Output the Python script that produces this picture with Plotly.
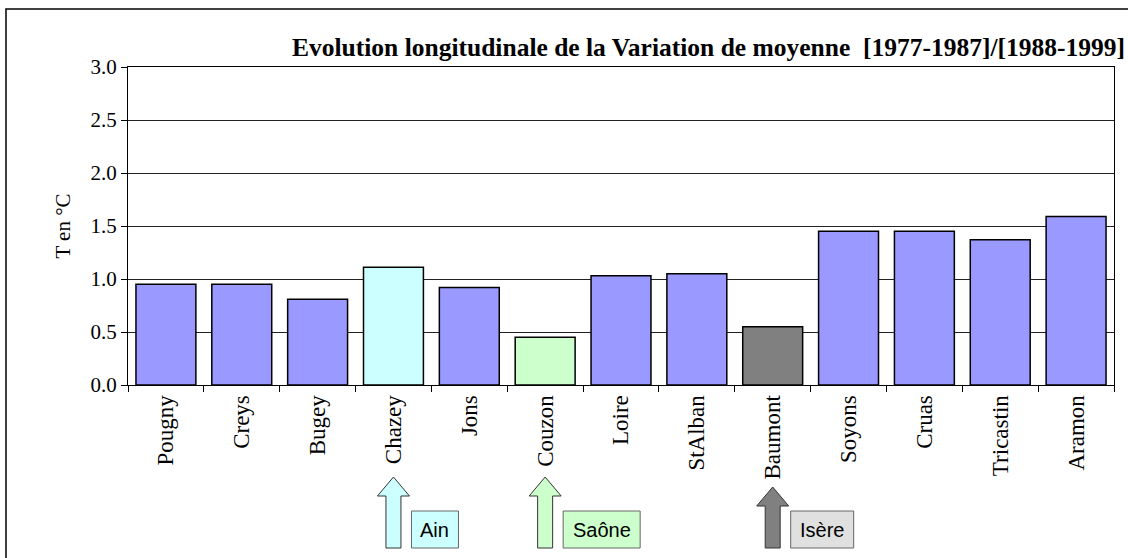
import plotly.graph_objects as go

stations = ["Pougny", "Creys", "Bugey", "Chazey", "Jons", "Couzon", "Loire",
            "StAlban", "Baumont", "Soyons", "Cruas", "Tricastin", "Aramon"]
variation = [0.95, 0.95, 0.81, 1.11, 0.92, 0.45, 1.03, 1.05, 0.55, 1.45, 1.45, 1.37, 1.59]
bar_colors = ["#9999FF", "#9999FF", "#9999FF", "#CCFFFF", "#9999FF", "#CCFFCC", "#9999FF",
              "#9999FF", "#808080", "#9999FF", "#9999FF", "#9999FF", "#9999FF"]
y_ticks = [0.0, 0.5, 1.0, 1.5, 2.0, 2.5, 3.0]

# tributaries: (label, station index, arrow fill, box fill)
tributaries = [("Ain", 3, "#CCFFFF", "#CCFFFF"),
               ("Saône", 5, "#CCFFCC", "#CCFFCC"),
               ("Isère", 8, "#808080", "#E0E0E0")]

W, H = 1128, 558
L, R, T, B = 128, 1114, 67, 385
PW, PH = R - L, B - T

fig = go.Figure(go.Bar(
    x=stations, y=variation,
    marker=dict(color=bar_colors, line=dict(color="#000000", width=1.5)),
    width=0.79,
))

def px(xp):
    return (xp - L) / PW

def py(yp):
    return (B - yp) / PH

shapes = []
annotations = []
# outer chart border
shapes.append(dict(type="rect", xref="paper", yref="paper",
                   x0=px(6), x1=px(1140), y0=py(9), y1=py(575),
                   line=dict(color="#000000", width=1.5), fillcolor="rgba(0,0,0,0)",
                   layer="below"))

n = len(stations)
for label, idx, afill, bfill in tributaries:
    cx = L + (idx + 0.5) * PW / n
    tip = 477 if label != "Isère" else 487
    headbase = tip + 19
    bottom = 548
    hw, sw = 16, 7.5
    path = (f"M {px(cx)} {py(tip)} L {px(cx + hw)} {py(headbase)} L {px(cx + sw)} {py(headbase)} "
            f"L {px(cx + sw)} {py(bottom)} L {px(cx - sw)} {py(bottom)} L {px(cx - sw)} {py(headbase)} "
            f"L {px(cx - hw)} {py(headbase)} Z")
    shapes.append(dict(type="path", xref="paper", yref="paper", path=path,
                       fillcolor=afill, line=dict(color="#333333", width=1)))
    bw = {"Ain": 47, "Saône": 77, "Isère": 63}[label]
    bx0 = cx + 18
    shapes.append(dict(type="rect", xref="paper", yref="paper",
                       x0=px(bx0), x1=px(bx0 + bw), y0=py(548), y1=py(511),
                       fillcolor=bfill, line=dict(color="#666666", width=1)))
    annotations.append(dict(x=px(bx0 + bw / 2), y=py(530), xref="paper", yref="paper",
                            text=label, showarrow=False, xanchor="center", yanchor="middle",
                            font=dict(family="Liberation Sans", size=20, color="#000000")))

annotations.append(dict(x=px(1127), y=py(47), xref="paper", yref="paper",
                        text="<b>Evolution longitudinale de la Variation de moyenne  [1977-1987]/[1988-1999]</b>",
                        showarrow=False, xanchor="right", yanchor="middle",
                        font=dict(family="Liberation Serif", size=25.5, color="#000000")))

fig.update_layout(
    width=W, height=H,
    margin=dict(l=L, r=W - R, t=T, b=H - B),
    paper_bgcolor="#FFFFFF", plot_bgcolor="#FFFFFF",
    showlegend=False,
    shapes=shapes, annotations=annotations,
    bargap=0.21,
    font=dict(family="Liberation Serif", size=21, color="#000000"),
)
fig.update_xaxes(
    type="category", tickangle=-90, tickson="boundaries",
    ticks="outside", ticklen=6, tickcolor="#000000",
    showline=True, linecolor="#000000", linewidth=1, mirror=True,
    showgrid=False, tickfont=dict(family="Liberation Serif", size=23),
)
fig.update_yaxes(
    range=[0, 3.0], tickvals=y_ticks, ticktext=[f"{v:.1f}" for v in y_ticks],
    ticks="outside", ticklen=6, tickcolor="#000000",
    showline=True, linecolor="#000000", linewidth=1, mirror=True,
    showgrid=True, gridcolor="#222222", gridwidth=1,
    zeroline=False,
    title=dict(text="T en °C", font=dict(family="Liberation Serif", size=21), standoff=14),
    tickfont=dict(family="Liberation Serif", size=21),
)

fig.write_html("out.html", config={"displayModeBar": False},
               post_script="document.body.style.margin='0';")
